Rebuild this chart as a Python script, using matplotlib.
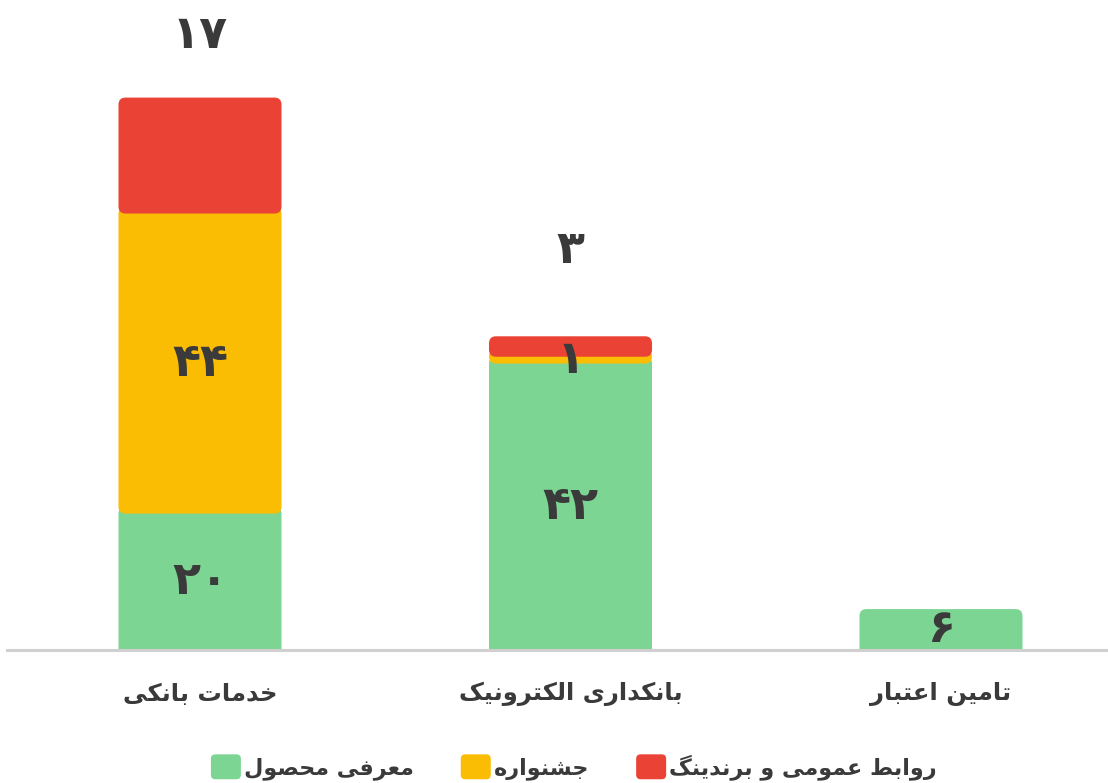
import matplotlib
matplotlib.use("Agg")
import matplotlib.pyplot as plt
from matplotlib.patches import FancyBboxPatch, Rectangle
from matplotlib.legend_handler import HandlerPatch
import numpy as np

# ---------------- data ----------------
categories = ["خدمات بانکی", "بانکداری الکترونیک", "تامین اعتبار"]
series_names = ["معرفی محصول", "جشنواره", "روابط عمومی و برندینگ"]
product_intro = [20, 42, 6]      # معرفی محصول
festival = [44, 1, 0]            # جشنواره
pr_branding = [17, 3, 0]         # روابط عمومی و برندینگ

colors = ["#7DD594", "#FBBC04", "#EA4335"]
text_color = "#3a3a3a"

# ------------- Arabic/Persian shaping (presentation forms) -------------
DUAL = {
    'ب': (0xFE8F, 0xFE90, 0xFE91, 0xFE92), 'ت': (0xFE95, 0xFE96, 0xFE97, 0xFE98),
    'ج': (0xFE9D, 0xFE9E, 0xFE9F, 0xFEA0), 'ح': (0xFEA1, 0xFEA2, 0xFEA3, 0xFEA4),
    'خ': (0xFEA5, 0xFEA6, 0xFEA7, 0xFEA8), 'ش': (0xFEB5, 0xFEB6, 0xFEB7, 0xFEB8),
    'ص': (0xFEB9, 0xFEBA, 0xFEBB, 0xFEBC), 'ط': (0xFEC1, 0xFEC2, 0xFEC3, 0xFEC4),
    'ع': (0xFEC9, 0xFECA, 0xFECB, 0xFECC), 'ف': (0xFED1, 0xFED2, 0xFED3, 0xFED4),
    'ل': (0xFEDD, 0xFEDE, 0xFEDF, 0xFEE0), 'م': (0xFEE1, 0xFEE2, 0xFEE3, 0xFEE4),
    'ن': (0xFEE5, 0xFEE6, 0xFEE7, 0xFEE8), 'ه': (0xFEE9, 0xFEEA, 0xFEEB, 0xFEEC),
    'ک': (0xFB8E, 0xFB8F, 0xFB90, 0xFB91), 'گ': (0xFB92, 0xFB93, 0xFB94, 0xFB95),
    'ی': (0xFBFC, 0xFBFD, 0xFBFE, 0xFBFF),
}
RIGHT = {'ا': (0xFE8D, 0xFE8E), 'د': (0xFEA9, 0xFEAA),
         'ر': (0xFEAD, 0xFEAE), 'و': (0xFEED, 0xFEEE)}


def shape(s):
    out = []
    for i, c in enumerate(s):
        prev = s[i - 1] if i > 0 else ''
        nxt = s[i + 1] if i + 1 < len(s) else ''
        jp = prev in DUAL
        if c in RIGHT:
            out.append(chr(RIGHT[c][1] if jp else RIGHT[c][0]))
        elif c in DUAL:
            jn = nxt in DUAL or nxt in RIGHT
            f = DUAL[c]
            idx = 3 if (jp and jn) else 1 if jp else 2 if jn else 0
            out.append(chr(f[idx]))
        else:
            out.append(c)
    return ''.join(reversed(out))


def fa_num(n):
    return ''.join(chr(0x06F0 + int(d)) for d in str(n))


plt.rcParams['font.family'] = ['DejaVu Sans']

W, H = 1108, 783
fig = plt.figure(figsize=(W / 100, H / 100), dpi=100)
base_px = 650
ax = fig.add_axes([7 / W, 1 - base_px / H, 1 - 7 / W, base_px / H])
px_per_unit = 6.82
ax.set_ylim(0, base_px / px_per_unit)
ax.set_xlim((7 - 200) / 370.5, (1108 - 200) / 370.5)

x = np.arange(len(categories))
bw = 0.44
series = [product_intro, festival, pr_branding]
bottoms = np.zeros(len(categories))
bar_sets = []
for vals, col in zip(series, colors):
    bars = ax.bar(x, vals, bw, bottom=bottoms, color=col)
    bar_sets.append(bars)
    bottoms = bottoms + np.array(vals)

# replace rectangles with rounded boxes
xunit_px = 370.5
r_px = 7
r = r_px / xunit_px
aspect = xunit_px / px_per_unit
for si, bars in enumerate(bar_sets):
    for bi, b in enumerate(bars):
        h = b.get_height()
        if h <= 0:
            continue
        y0 = b.get_y()
        y1 = y0 + h
        # extend under the segment above so its rounded bottom shows this colour
        has_above = any(series[k][bi] > 0 for k in range(si + 1, len(series)))
        if has_above:
            y1 += r_px / px_per_unit
        if si == 0:
            y0 -= r_px / px_per_unit * 1.5
        b.set_visible(False)
        p = FancyBboxPatch((b.get_x(), y0), b.get_width(), y1 - y0,
                           boxstyle=f"round,pad=0,rounding_size={r}",
                           mutation_aspect=aspect, facecolor=b.get_facecolor(),
                           edgecolor='none')
        p.set_zorder(2 + si)
        p.set_clip_path(ax.patch)
        ax.add_patch(p)

# segment labels
for si, vals in enumerate(series[:2]):
    bots = np.sum(series[:si], axis=0) if si > 0 else np.zeros(len(x))
    for bi, v in enumerate(vals):
        if v > 0:
            ax.text(x[bi], bots[bi] + v / 2, fa_num(v), ha='center', va='center',
                    fontsize=33, fontweight='bold', color=text_color, zorder=10)

# top (red) labels above stacks
top_offsets_pt = [44.6, 62.0]
totals = np.sum(series, axis=0)
for bi, v in enumerate(pr_branding):
    if v > 0:
        ax.annotate(fa_num(v), (x[bi], totals[bi]), xytext=(0, top_offsets_pt[bi]),
                    textcoords='offset points', ha='center', va='center',
                    fontsize=33, fontweight='bold', color=text_color, zorder=10,
                    annotation_clip=False)

for s in ['top', 'right', 'left']:
    ax.spines[s].set_visible(False)
ax.spines['bottom'].set_color('#d0d0d0')
ax.spines['bottom'].set_linewidth(2.2)
ax.spines['bottom'].set_zorder(20)
ax.set_yticks([])
ax.set_xticks(x)
ax.set_xticklabels([shape(c) for c in categories], fontsize=17.5, fontweight='bold',
                   color=text_color)
ax.tick_params(axis='x', length=0, pad=23)


def rounded_handle(legend, orig_handle, xdescent, ydescent, width, height, fontsize):
    return FancyBboxPatch((-xdescent, -ydescent), width, height,
                          boxstyle=f"round,pad=0,rounding_size={0.18 * height}")


handles = [Rectangle((0, 0), 1, 1, facecolor=c, edgecolor='none') for c in colors]
fig.legend(handles, [shape(s) for s in series_names], loc='center',
           bbox_to_anchor=(574 / W, 1 - 767 / H), ncol=3, frameon=False,
           prop={'size': 16, 'weight': 'bold'}, handlelength=1.35, handleheight=1.35,
           handletextpad=0.15, columnspacing=2.1, borderpad=0, labelcolor=text_color,
           handler_map={Rectangle: HandlerPatch(patch_func=rounded_handle)})

fig.savefig("out.png", dpi=100)
